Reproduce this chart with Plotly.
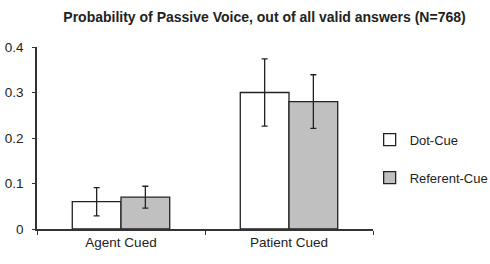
import plotly.graph_objects as go

categories = ["Agent Cued", "Patient Cued"]
dot_cue = [0.06, 0.30]
dot_cue_err = [0.031, 0.074]
referent_cue = [0.07, 0.28]
referent_cue_err = [0.024, 0.059]
y_ticks = [0, 0.1, 0.2, 0.3, 0.4]
y_tick_labels = ["0", "0.1", "0.2", "0.3", "0.4"]

font = "Liberation Sans, Arial, sans-serif"

fig = go.Figure()
fig.add_trace(go.Bar(
    name="Dot-Cue", x=categories, y=dot_cue,
    marker=dict(color="white", line=dict(color="#222", width=1.3)),
    error_y=dict(type="data", array=dot_cue_err, color="#222", thickness=1.3, width=3),
    legendgroup="a",
))
fig.add_trace(go.Bar(
    name="Referent-Cue", x=categories, y=referent_cue,
    marker=dict(color="#c0c0c0", line=dict(color="#222", width=1.3)),
    error_y=dict(type="data", array=referent_cue_err, color="#222", thickness=1.3, width=3),
    legendgroup="b",
))

fig.update_layout(
    width=490, height=264,
    margin=dict(l=37, r=117, t=47, b=35, autoexpand=False),
    paper_bgcolor="white", plot_bgcolor="white",
    barmode="group", bargap=0.42, bargroupgap=0,
    font=dict(family=font, size=13.5, color="#222"),
    title=dict(text="<b>Probability of Passive Voice, out of all valid answers (N=768)</b>",
               x=264.5 / 490, xanchor="center", y=1 - 17 / 264, yanchor="middle",
               font=dict(family=font, size=14, color="#222")),
    legend=dict(x=0.99, y=0.386, xanchor="left", yanchor="middle",
                traceorder="grouped", tracegroupgap=18,
                font=dict(family=font, size=13, color="#222"),
                itemwidth=30),
    xaxis=dict(showline=True, linecolor="#333", linewidth=1.5,
               ticks="outside", tickson="boundaries", ticklen=4, tickcolor="#333",
               showgrid=False, tickfont=dict(size=13.5)),
    yaxis=dict(range=[0, 0.4], showline=True, linecolor="#333", linewidth=1.5,
               ticks="outside", ticklen=3, tickcolor="#333",
               tickvals=y_ticks, ticktext=y_tick_labels, ticklabelstandoff=6,
               showgrid=False, zeroline=False, tickfont=dict(size=13.5)),
)

fig.write_html("out.html", config={"displayModeBar": False},
               post_script="document.body.style.margin='0';")
